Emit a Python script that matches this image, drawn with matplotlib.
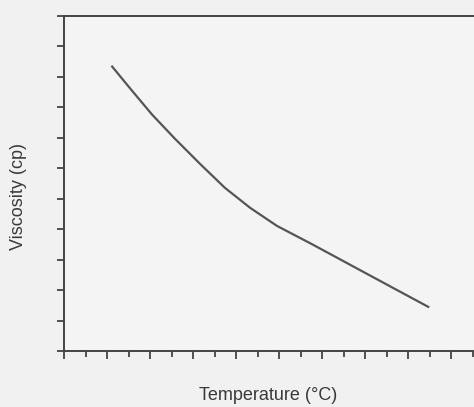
import numpy as np
import matplotlib
matplotlib.use('Agg')
import matplotlib.pyplot as plt
from matplotlib.ticker import MultipleLocator, NullFormatter

# readings (axis has no numbers, so units are tick steps)
temperature = [1.12, 1.58, 2.05, 2.58, 3.16, 3.74, 4.33, 4.95, 5.79, 7.05, 8.47]
viscosity = [9.34, 8.55, 7.76, 6.97, 6.15, 5.36, 4.70, 4.11, 3.49, 2.53, 1.45]

plt.rcParams['font.family'] = ['Liberation Sans', 'DejaVu Sans']

fig = plt.figure(figsize=(4.74, 4.07), dpi=100, facecolor='#f1f1f1')
ax = fig.add_axes([64 / 474, 56 / 407, 410 / 474, 335 / 407], facecolor='#f4f4f4')

ax.plot(temperature, viscosity, color='#555555', lw=1.6)

ax.set_xlim(0, 410 / 43)
ax.set_ylim(0, 11)

ax.xaxis.set_major_locator(MultipleLocator(1))
ax.xaxis.set_minor_locator(MultipleLocator(0.5))
ax.yaxis.set_major_locator(MultipleLocator(1))
ax.xaxis.set_major_formatter(NullFormatter())
ax.yaxis.set_major_formatter(NullFormatter())
ax.tick_params(axis='x', which='major', direction='out', length=6, width=1.3, color='#444444')
ax.tick_params(axis='x', which='minor', direction='out', length=4, width=1.3, color='#444444')
ax.tick_params(axis='y', which='major', direction='out', length=5, width=1.3, color='#444444')

for side in ['left', 'bottom', 'top']:
    ax.spines[side].set_color('#444444')
    ax.spines[side].set_linewidth(1.4)
ax.spines['right'].set_visible(False)

ax.set_xlabel('Temperature (°C)', fontsize=13, color='#3a3a3a')
ax.set_ylabel('Viscosity (cp)', fontsize=13, color='#3a3a3a')
ax.xaxis.set_label_coords((268 - 64) / 410, (351 - 387) / 335)
ax.yaxis.set_label_coords((27 - 64) / 410, (351 - 196) / 335)

fig.savefig('out.png', dpi=100, facecolor=fig.get_facecolor())
